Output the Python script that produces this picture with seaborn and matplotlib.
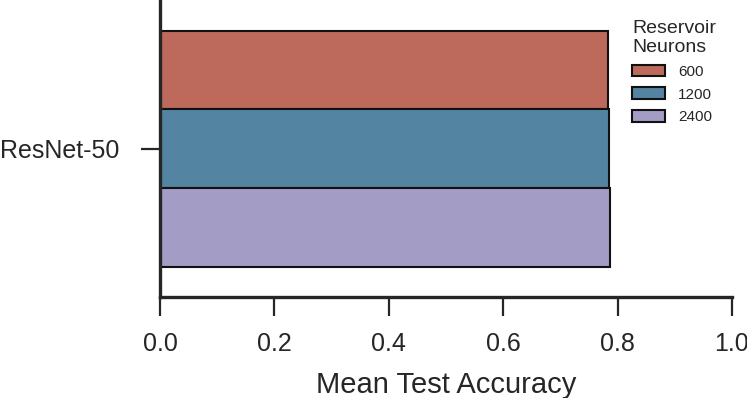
import matplotlib
matplotlib.use("Agg")
import matplotlib.pyplot as plt
import seaborn as sns
import pandas as pd

models = ["ResNet-50"]
neurons = ["600", "1200", "2400"]
accuracy = [0.783, 0.785, 0.787]
colors = ["#bd6a5d", "#5384a2", "#a39dc6"]

df = pd.DataFrame({
    "Model": models * len(neurons),
    "Reservoir\nNeurons": neurons,
    "Mean Test Accuracy": accuracy,
})

sns.set_theme(style="ticks")
plt.rcParams["font.family"] = ["Liberation Sans", "DejaVu Sans"]

fig = plt.figure(figsize=(7.47, 3.98), dpi=100)
ax = fig.add_axes([0.2142, 0.254, 0.7657, 0.7435])
sns.barplot(data=df, y="Model", x="Mean Test Accuracy", hue="Reservoir\nNeurons",
            palette=colors, saturation=1, orient="h", edgecolor="#111111",
            linewidth=1.5, ax=ax, errorbar=None)
ax.set_xlim(0, 1.0)
ax.set_ylim(0.5, -0.5)
ax.set_ylabel("")
ax.set_xlabel("Mean Test Accuracy", fontsize=21, labelpad=11, color="#262626")
ax.tick_params(axis="both", labelsize=18, width=1.6, length=14, color="#262626",
               labelcolor="#262626")
ax.tick_params(axis="x", pad=11)
ax.tick_params(axis="y", pad=15)
for s in ["left", "bottom"]:
    ax.spines[s].set_linewidth(2.4)
    ax.spines[s].set_color("#262626")
sns.despine(ax=ax)
leg = ax.legend(title="Reservoir\nNeurons", loc="upper left",
                bbox_to_anchor=(0.828, 0.985), bbox_transform=fig.transFigure,
                frameon=False, fontsize=11, title_fontsize=14, alignment="left",
                handlelength=2.15, handleheight=0.78, labelspacing=0.56,
                handletextpad=0.85)
for t in leg.get_texts():
    t.set_color("#262626")
leg.get_title().set_color("#262626")
fig.savefig("out.png", dpi=100)
